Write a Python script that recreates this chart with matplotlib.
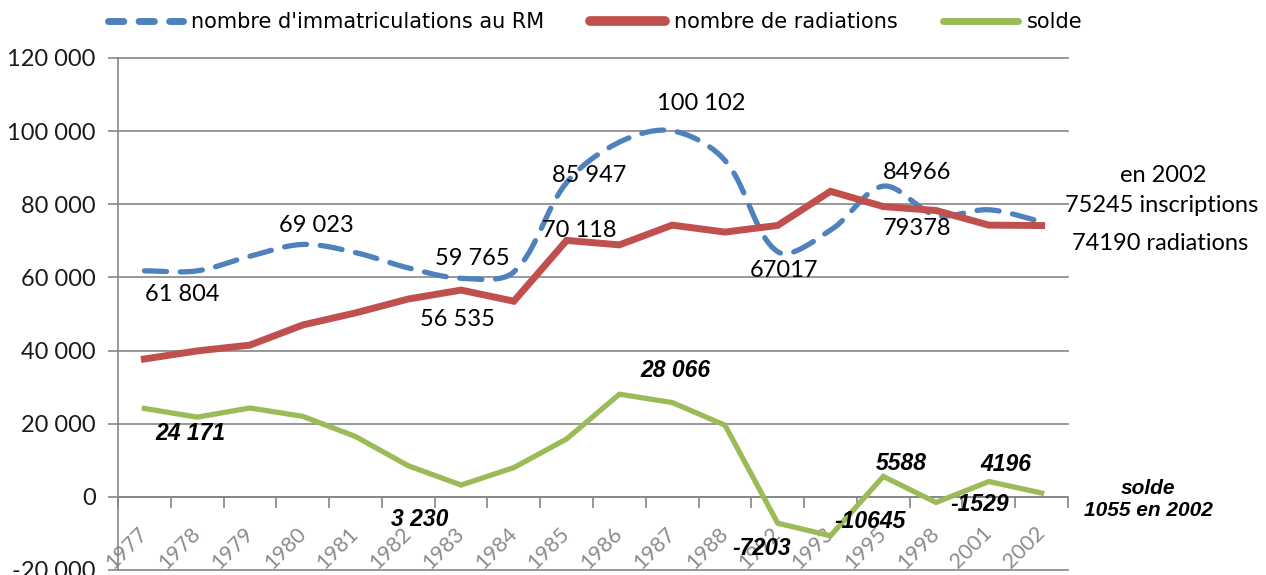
import numpy as np
import matplotlib
matplotlib.use('Agg')
import matplotlib.pyplot as plt
from matplotlib.ticker import FuncFormatter
from matplotlib.lines import Line2D

years = ['1977', '1978', '1979', '1980', '1981', '1982', '1983', '1984', '1985',
         '1986', '1987', '1988', '1992', '1993', '1995', '1998', '2001', '2002']
immatriculations = [61804, 61800, 65800, 69023, 66800, 62600, 59765, 61500, 85947,
                    97000, 100102, 92000, 67017, 72900, 84966, 77000, 78500, 75245]
radiations = [37700, 39900, 41500, 47000, 50300, 54100, 56535, 53500, 70118,
              68900, 74300, 72400, 74220, 83550, 79378, 78300, 74300, 74190]
solde = [24171, 21800, 24300, 22023, 16500, 8500, 3230, 8000, 15829,
         28066, 25800, 19600, -7203, -10645, 5588, -1529, 4196, 1055]

series_names = ["nombre d'immatriculations au RM", "nombre de radiations", "solde"]

# labels: (index, text, dx px, dy px)
imm_labels = [(0, '61 804', 38, -24), (3, '69 023', 14, 19), (6, '59 765', 11, 20),
              (8, '85 947', 23, 7), (10, '100 102', 29, 27), (12, '67017', 6, -19),
              (14, '84966', 34, 14)]
rad_labels = [(6, '56 535', -4, -29), (8, '70 118', 13, 10), (14, '79378', 34, -22)]
solde_labels = [(0, '24 171', 46, -25), (6, '3 230', -41, -34), (9, '28 066', 56, 24),
                (12, '-7203', -16, -25), (13, '-10645', 40, 14), (14, '5588', 18, 13),
                (15, '-1529', 44, -2), (16, '4196', 17, 17)]

C_BLUE = '#4f81bd'
C_RED = '#c0504d'
C_GREEN = '#9bbb59'
C_GRID = '#868686'
CAL = ['Lato', 'DejaVu Sans']
ARIAL = ['Liberation Sans', 'DejaVu Sans']
plt.rcParams['font.family'] = CAL

fig = plt.figure(figsize=(12.66, 5.75), dpi=100)
ax = fig.add_axes([118 / 1266, 5 / 575, 950 / 1266, 512 / 575])
x = np.arange(len(years))

ax.set_xlim(-0.5, len(years) - 0.5)
ax.set_ylim(-20000, 120000)


def smooth(xs, ys, n=24):
    # Bezier smoothing through the points, control points scaled by chord length
    # (computed in display space so it behaves like the spreadsheet's smoothed line)
    fig.canvas.draw()
    P = ax.transData.transform(np.column_stack([xs, ys]).astype(float))
    E = np.vstack([P[0], P, P[-1]])
    out = []
    t = np.linspace(0, 1, n)[:, None]
    for i in range(len(P) - 1):
        p0, p1, p2, p3 = E[i], E[i + 1], E[i + 2], E[i + 3]
        l01 = np.linalg.norm(p1 - p0)
        l12 = np.linalg.norm(p2 - p1)
        l23 = np.linalg.norm(p3 - p2)
        c1 = p1 + (p2 - p0) * (l12 / max(l01 + l12, 1e-9)) / 3.0
        c2 = p2 - (p3 - p1) * (l12 / max(l12 + l23, 1e-9)) / 3.0
        seg = (1 - t) ** 3 * p1 + 3 * (1 - t) ** 2 * t * c1 + 3 * (1 - t) * t ** 2 * c2 + t ** 3 * p2
        out.append(seg if i == 0 else seg[1:])
    pts = np.vstack(out)
    return ax.transData.inverted().transform(pts)


ax.set_yticks(np.arange(-20000, 120001, 20000))
ax.yaxis.set_major_formatter(FuncFormatter(lambda v, p: f"{int(v):,}".replace(',', ' ')))
ax.grid(axis='y', color=C_GRID, lw=1.2, clip_on=False)
ax.set_axisbelow(True)

for s in ['top', 'right']:
    ax.spines[s].set_visible(False)
ax.spines['left'].set_color(C_GRID)
ax.spines['left'].set_linewidth(1.2)
ax.spines['bottom'].set_position(('data', 0))
ax.spines['bottom'].set_color(C_GRID)
ax.spines['bottom'].set_linewidth(1.2)

ax.tick_params(axis='y', direction='out', length=7, color=C_GRID, width=1.2,
               labelsize=17, labelcolor='#1a1a1a', pad=9)

ax.set_xticks(x)
ax.set_xticks(np.arange(-0.5, len(years), 1.0), minor=True)
ax.set_xticklabels(years, rotation=45, ha='right', va='center', rotation_mode='anchor',
                   fontsize=15.5, color='#8c8c8c')
ax.tick_params(axis='x', which='major', length=0, pad=24)
ax.tick_params(axis='x', which='minor', length=8, color=C_GRID, width=1.2, direction='out')

# lines
sm = smooth(x, immatriculations)
ax.plot(sm[:, 0], sm[:, 1], color=C_BLUE, lw=3.8, linestyle=(0, (4.2, 2.6)),
        dash_capstyle='round', zorder=3)
ax.plot(x, radiations, color=C_RED, lw=5.0, solid_joinstyle='miter', zorder=4)
ax.plot(x, solde, color=C_GREEN, lw=3.8, solid_joinstyle='miter', zorder=4)

for i, t, dx, dy in imm_labels:
    ax.annotate(t, xy=(x[i], immatriculations[i]), xytext=(dx, dy), textcoords='offset pixels',
                ha='center', va='center', fontsize=17, color='black', zorder=6)
for i, t, dx, dy in rad_labels:
    ax.annotate(t, xy=(x[i], radiations[i]), xytext=(dx, dy), textcoords='offset pixels',
                ha='center', va='center', fontsize=17, color='black', zorder=6)
for i, t, dx, dy in solde_labels:
    ax.annotate(t, xy=(x[i], solde[i]), xytext=(dx, dy), textcoords='offset pixels',
                ha='center', va='center', fontsize=16.5, family=ARIAL, fontweight='bold',
                fontstyle='italic', color='black', zorder=6)

# right-side notes
fig.text(1163 / 1266, 1 - 175 / 575, 'en 2002', ha='center', va='center', fontsize=17)
fig.text(1162 / 1266, 1 - 206 / 575, '75245 inscriptions', ha='center', va='center', fontsize=17)
fig.text(1160 / 1266, 1 - 243 / 575, '74190 radiations', ha='center', va='center', fontsize=17)
fig.text(1148 / 1266, 1 - 488 / 575, 'solde', ha='center', va='center', fontsize=15,
         family=ARIAL, fontweight='bold', fontstyle='italic')
fig.text(1148 / 1266, 1 - 510 / 575, '1055 en 2002', ha='center', va='center', fontsize=15,
         family=ARIAL, fontweight='bold', fontstyle='italic')

handles = [Line2D([], [], color=C_BLUE, lw=5, linestyle=(0, (2.2, 2.2)), dash_capstyle='round'),
           Line2D([], [], color=C_RED, lw=7, solid_capstyle='round'),
           Line2D([], [], color=C_GREEN, lw=5, solid_capstyle='round')]
fig.legend(handles, series_names, loc='center', bbox_to_anchor=(595 / 1266, 1 - 22 / 575),
           ncol=3, frameon=False, handlelength=3.6, handletextpad=0.4, columnspacing=2.2,
           prop={'family': ['Liberation Sans Narrow', 'DejaVu Sans'], 'size': 15})

fig.savefig('out.png', dpi=100)
